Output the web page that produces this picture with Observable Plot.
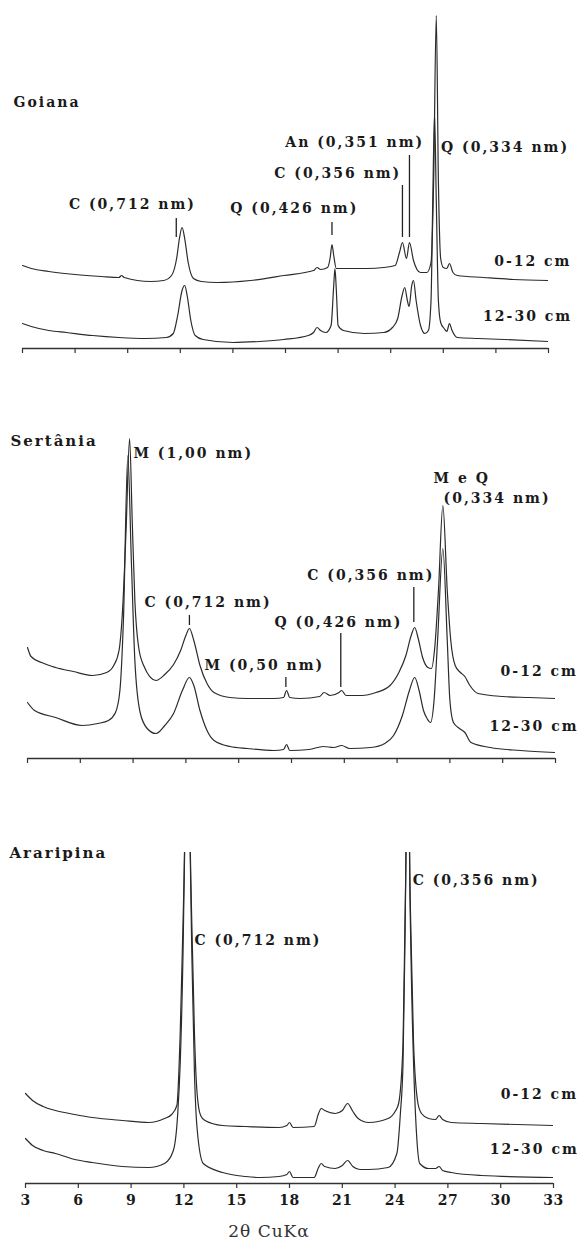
<!DOCTYPE html>
<html><head><meta charset="utf-8">
<script src="https://cdn.jsdelivr.net/npm/d3@7"></script>
<script src="https://cdn.jsdelivr.net/npm/@observablehq/plot@0.6"></script>
<style>
body{margin:0;background:#fff}
#wrap{position:relative;width:580px;height:1243px;overflow:hidden;background:#fff}
.panel{position:absolute;left:0}
g[aria-label="text"] text{letter-spacing:2px}
g[aria-label="x-axis tick label"] text{letter-spacing:0.5px;font-weight:bold;font-size:14px}
#xtitle{position:absolute;top:1221px;left:269px;transform:translateX(-50%);font:17px "DejaVu Serif";letter-spacing:1px;color:#333;white-space:nowrap}
</style></head><body><div id="wrap"><div id="xtitle">2θ CuKα</div></div>
<script>
// ---- data: [2θ (degrees), relative intensity (a.u.)] ----
const goiana_0_12 = [[3.0,83],[3.5,80],[4.5,77],[6,74],[7.5,72],[8.5,71],[8.65,73],[8.8,71],[10.3,67],[11.05,68],[11.5,73],[11.8,91],[11.95,110],[12.1,121],[12.25,110],[12.45,86],[12.75,70],[13.2,67],[14.1,66],[16.0,68],[17.9,73],[19.6,78],[19.8,81],[20.0,79],[20.4,81],[20.55,91],[20.65,104],[20.75,93],[20.9,80],[21.5,80],[22.65,80],[23.6,81],[24.25,83],[24.5,96],[24.67,106],[24.9,90],[25.07,106],[25.3,88],[25.7,76],[26.06,76],[26.3,86],[26.45,168],[26.6,333],[26.72,168],[26.85,90],[27.0,81],[27.2,80],[27.35,85],[27.55,76],[27.8,73],[29.3,71],[31,69],[33,68]];
const goiana_12_30 = [[3.0,25],[3.5,22],[4.5,18],[5.5,16],[7,13],[8.5,11],[10,10],[11.2,11],[11.6,15],[11.85,33],[12.1,58],[12.25,63],[12.4,52],[12.6,28],[12.85,13],[13.3,9],[15,6],[16.5,7],[17.9,9],[19.3,13],[19.6,16],[19.8,21],[20.0,18],[20.3,16],[20.6,23],[20.75,63],[20.82,80],[20.9,58],[21.0,23],[21.3,18],[22.5,15],[23.6,16],[24.1,21],[24.4,30],[24.65,53],[24.8,61],[24.95,48],[25.05,42],[25.2,63],[25.3,68],[25.45,48],[25.7,23],[25.95,15],[26.15,18],[26.3,48],[26.4,148],[26.5,235],[26.6,148],[26.72,48],[26.85,26],[27.05,20],[27.2,17],[27.35,25],[27.5,18],[27.8,11],[29,10],[30.5,9],[33,7]];
const sertania_0_12 = [[3.0,111],[3.2,102],[3.8,96],[4.6,91],[5.6,87],[6.7,83],[7.5,86],[7.9,93],[8.2,108],[8.4,148],[8.6,228],[8.8,320],[8.95,238],[9.1,158],[9.3,113],[9.6,93],[10.3,78],[10.8,84],[11.3,94],[11.7,108],[12.0,123],[12.2,130],[12.45,118],[12.8,93],[13.2,75],[13.6,66],[14.5,61],[15.5,60],[17.0,60],[17.55,61],[17.72,68],[17.9,61],[18.5,60],[19.6,62],[19.85,66],[20.2,63],[20.7,66],[20.85,68],[21.1,63],[22.0,63],[22.8,66],[23.6,73],[24.1,86],[24.5,103],[24.8,123],[25.0,131],[25.2,120],[25.45,101],[25.75,91],[25.95,90],[26.15,113],[26.35,168],[26.6,253],[26.85,168],[27.05,118],[27.3,93],[27.6,86],[27.85,82],[28.1,74],[28.6,65],[30,62],[31.5,61],[33,60]];
const sertania_12_30 = [[3.0,56],[3.4,48],[4.6,41],[6.1,33],[7.0,35],[7.6,38],[8.0,46],[8.25,68],[8.45,138],[8.7,303],[8.9,198],[9.1,98],[9.4,46],[9.8,30],[10.3,25],[10.8,33],[11.3,45],[11.8,68],[12.2,81],[12.45,73],[12.8,48],[13.2,28],[13.6,18],[14.5,12],[15.5,10],[17.0,8],[17.55,9],[17.72,14],[17.9,8],[19.0,9],[19.8,12],[20.4,11],[20.85,13],[21.3,10],[22.5,11],[23.3,15],[23.8,23],[24.3,43],[24.7,68],[25.0,81],[25.25,68],[25.5,48],[25.7,40],[25.9,36],[26.1,58],[26.3,118],[26.6,210],[26.85,118],[27.0,58],[27.2,36],[27.55,30],[27.85,26],[28.2,16],[29.3,11],[31,8],[33,6]];
const araripina_0_12 = [[3.0,90],[3.4,83],[4.0,77],[4.7,73],[5.8,69],[6.8,66],[8.5,63],[10.0,61],[10.9,65],[11.3,69],[11.6,78],[11.79,150],[11.95,260],[12.04,340],[12.2,700],[12.36,340],[12.45,260],[12.6,150],[12.75,90],[12.95,68],[13.2,63],[14.2,58],[15.5,57],[17.4,56],[17.85,58],[18.0,61],[18.2,56],[19.4,57],[19.65,70],[19.8,75],[20.0,73],[20.6,70],[21.0,73],[21.3,80],[21.6,72],[21.9,65],[22.5,61],[23.6,65],[24.0,72],[24.2,80],[24.45,140],[24.55,250],[24.62,340],[24.72,700],[24.82,340],[24.9,250],[25.05,140],[25.3,80],[25.5,70],[25.9,65],[26.3,64],[26.5,68],[26.7,64],[27.2,61],[28.9,60],[33,58]];
const araripina_12_30 = [[3.0,45],[3.4,38],[4.0,33],[4.7,30],[5.8,24],[6.8,21],[8.5,17],[10.0,16],[10.9,20],[11.4,33],[11.65,70],[11.79,120],[11.95,230],[12.04,330],[12.2,650],[12.36,330],[12.45,230],[12.6,110],[12.75,55],[13.1,20],[14.2,11],[15.5,7],[16.3,6],[17.4,7],[17.85,9],[18.0,12],[18.2,6],[19.4,6],[19.65,16],[19.8,20],[20.0,17],[20.6,15],[21.0,18],[21.3,23],[21.6,17],[22.0,14],[22.5,14],[23.6,16],[24.1,30],[24.3,70],[24.45,120],[24.55,230],[24.62,330],[24.72,650],[24.82,330],[24.9,230],[25.05,120],[25.2,55],[25.4,20],[25.9,15],[26.3,15],[26.5,17],[26.7,13],[27.2,11],[28.9,8],[33,6]];

const depths = ["0-12 cm", "12-30 cm"];
const xTicks = [3, 6, 9, 12, 15, 18, 21, 24, 27, 30, 33];

// annotations: [text, 2θ, intensity]
const goianaLabels = [["C (0,712 nm)",5.65,144],["Q (0,426 nm)",14.85,140],["C (0,356 nm)",17.36,175],["An (0,351 nm)",17.99,206],["Q (0,334 nm)",26.87,201],["0-12 cm",29.9,87],["12-30 cm",29.27,32]];
const goianaMarkers = [[11.77,111,130],[20.65,113,126],[24.67,111,163],[25.07,111,193]];
const sertaniaLabels = [["M (1,00 nm)",9.02,305],["C (0,712 nm)",9.65,156],["Q (0,426 nm)",17.03,136],["M (0,50 nm)",13.06,93],["C (0,356 nm)",18.9,183],["M e Q",26.07,280],["(0,334 nm)",26.64,260],["0-12 cm",29.88,87],["12-30 cm",29.25,32]];
const sertaniaMarkers = [[12.2,133,143],[20.8,71,125],[17.68,71,81],[24.95,136,171]];
const araripinaLabels = [["C (0,712 nm)",12.6,243],["C (0,356 nm)",25.0,303],["0-12 cm",30.0,89],["12-30 cm",29.38,34]];
const siteNames = [["Goiana",2.49,246],["Sertânia",2.03,317],["Araripina",2.09,330]];

// ---- drawing ----
const font = "DejaVu Serif";
function rows(a, b) {
  return [...a.map(([t, i]) => ({t, i, d: depths[0]})), ...b.map(([t, i]) => ({t, i, d: depths[1]}))];
}
function lab(arr) { return arr.map(([text, t, i]) => ({text, t, i})); }

function panel({top, height, mt, mb, ml, mr, ymax, data, labels, markers, name, nameSize, tickLabels}) {
  const marks = [
    Plot.ruleY([0], {stroke: "#333", strokeWidth: 1.3}),
    Plot.axisX({ticks: xTicks, tickSize: 5, tickPadding: 7, stroke: "#333", strokeWidth: 1.2, label: null,
      tickFormat: tickLabels ? (d => String(d)) : (() => ""),
      fontSize: 14, fontWeight: "bold", fontFamily: font, fill: "#1a1a1a"}),
    Plot.line(data, {x: "t", y: "i", z: "d", curve: "monotone-x", stroke: "#2b2b2b", strokeWidth: 1.2, clip: true}),
    Plot.ruleX(markers.map(([t, y1, y2]) => ({t, y1, y2})), {x: "t", y1: "y1", y2: "y2", stroke: "#222", strokeWidth: 1.3}),
    Plot.text(lab(labels), {x: "t", y: "i", text: "text", textAnchor: "start", lineAnchor: "middle",
      fontSize: 14, fontWeight: "bold", fontFamily: font, fill: "#1a1a1a"}),
    Plot.text([name], {x: d => d[1], y: d => d[2], text: d => d[0], textAnchor: "start", lineAnchor: "middle",
      fontSize: nameSize, fontWeight: "bold", fontFamily: font, fill: "#1a1a1a"})
  ];
  const svg = Plot.plot({
    width: 580, height, marginTop: mt, marginBottom: mb, marginLeft: ml, marginRight: mr,
    x: {domain: [3, 33], label: null},
    y: {domain: [0, ymax], axis: null},
    style: {fontFamily: font, background: "transparent", overflow: "visible"},
    marks
  });
  svg.classList.add("panel");
  svg.style.top = top + "px";
  document.getElementById("wrap").appendChild(svg);
}

panel({top: 0, height: 375, mt: 0, mb: 27, ml: 22, mr: 32, ymax: 348,
  data: rows(goiana_0_12, goiana_12_30), labels: goianaLabels, markers: goianaMarkers,
  name: siteNames[0], nameSize: 14, tickLabels: false});
panel({top: 400, height: 380, mt: 0, mb: 22, ml: 27, mr: 25, ymax: 358,
  data: rows(sertania_0_12, sertania_12_30), labels: sertaniaLabels, markers: sertaniaMarkers,
  name: siteNames[1], nameSize: 15, tickLabels: false});
panel({top: 780, height: 440, mt: 72, mb: 37, ml: 25, mr: 27, ymax: 331,
  data: rows(araripina_0_12, araripina_12_30), labels: araripinaLabels, markers: [],
  name: siteNames[2], nameSize: 15, tickLabels: true});
</script></body></html>
